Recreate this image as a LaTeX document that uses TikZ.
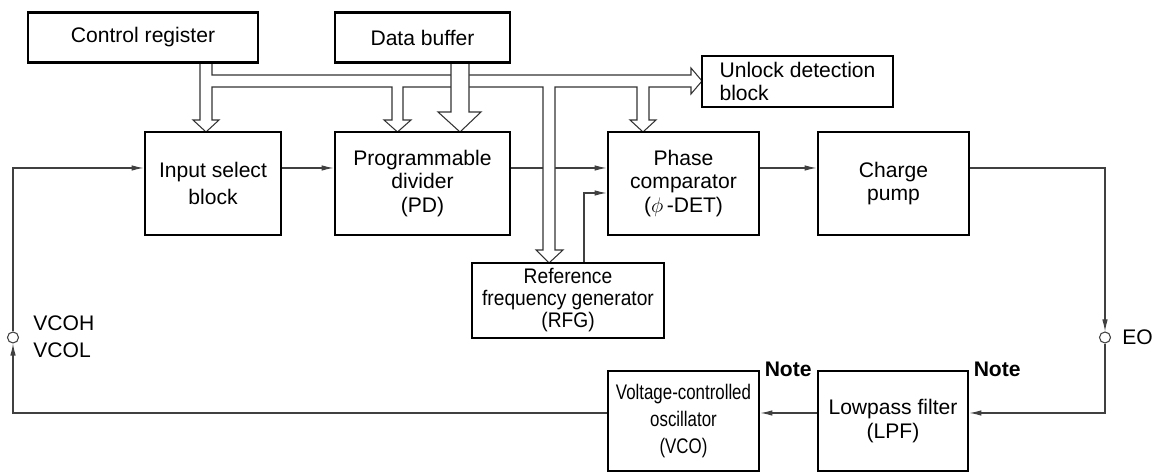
\documentclass[tikz,border=0pt]{standalone}
\usepackage{fontspec}
\setmainfont{Liberation Sans}
\newfontfamily\rfgfont[FakeStretch=0.91]{Liberation Sans}
\newfontfamily\vcofont[FakeStretch=0.80]{Liberation Sans}
\usetikzlibrary{arrows.meta, positioning, calc, backgrounds}

\begin{document}
\begin{tikzpicture}[
  blk/.style={rectangle, draw=black, line width=1.6pt, align=center,
              inner sep=2pt, font=\fontsize{12}{13.5}\selectfont},
  wire/.style={draw=black!75, line width=0.6pt},
  arr/.style={wire, -{Latex[length=0.24cm, width=0.11cm]}},
  bus/.style={draw=black!80, line width=0.6pt, fill=white, line join=miter},
  pin/.style={circle, draw=black!75, line width=0.6pt, fill=white,
              inner sep=0pt, minimum size=0.22cm},
  lbl/.style={inner sep=0pt, align=left, font=\fontsize{12}{15.5}\selectfont},
  note/.style={anchor=west, inner xsep=0.08cm, inner ysep=0pt,
               font=\fontsize{12}{14}\selectfont\bfseries}
]
  \useasboundingbox (0,0) rectangle (23.2,9.48);

  % sources on top
  \node[blk, minimum width=4.6cm, minimum height=1.0cm] (cr) at (2.86, 8.73) {Control register};
  \node[blk, minimum width=3.5cm, minimum height=1.0cm] (db) at (8.45, 8.73) {Data buffer};
  \node[blk, minimum width=3.82cm, minimum height=1.02cm, align=left] (ud) at (15.95, 7.85) {Unlock detection\\block};

  % main chain
  \node[blk, minimum width=2.72cm, minimum height=2.06cm] (isb) at (4.26, 5.81) {Input select\\[2pt]block};
  \node[blk, minimum width=3.5cm, minimum height=2.06cm] (pd) at (8.45, 5.81) {Programmable\\divider\\(PD)};
  \node[blk, minimum width=3.02cm, minimum height=2.06cm] (pc) at (13.67, 5.81) {Phase\\comparator\\($\phi$\,-DET)};
  \node[blk, minimum width=3.02cm, minimum height=2.06cm] (cp) at (17.87, 5.81) {Charge\\pump};
  \node[blk, minimum width=3.84cm, minimum height=1.5cm,
        font=\rfgfont\fontsize{12}{12.5}\selectfont] (rfg) at (11.36, 3.47) {Reference\\frequency generator\\(RFG)};

  % loop back
  \node[blk, minimum width=3.02cm, minimum height=2.0cm,
        font=\vcofont\fontsize{12}{15.4}\selectfont] (vco) at (13.67, 1.06) {Voltage-controlled\\oscillator\\(VCO)};
  \node[blk, minimum width=3.0cm, minimum height=2.0cm] (lpf) at (17.86, 1.06) {Lowpass filter\\(LPF)};

  \node[pin] (eo)  at (22.10, 2.73) {};
  \node[pin] (vin) at (0.26, 2.73) {};
  \node[lbl, anchor=west] (eolbl) at (22.44, 2.74) {EO};
  \node[lbl, anchor=west] (vinlbl) at (0.66, 2.74) {VCOH\\VCOL};
  \node[note] (n1) at (vco.north east) {Note};
  \node[note] (n2) at (lpf.north east) {Note};

  \begin{scope}[on background layer]
    \draw[arr] ([yshift=0.31cm]isb.east) -- ([yshift=0.31cm]pd.west);
    \draw[arr] ([yshift=0.31cm]pd.east) -- ([yshift=0.31cm]pc.west);
    \draw[arr] ([yshift=0.31cm]pc.east) -- ([yshift=0.31cm]cp.west);
    \draw[arr] ([yshift=0.31cm]cp.east) -| (eo.north);
    \draw[arr] (eo.south) |- ([yshift=0.16cm]lpf.east);
    \draw[arr] ([yshift=0.16cm]lpf.west) -- ([yshift=0.16cm]vco.east);
    \draw[arr] ([yshift=0.16cm]vco.west) -| (vin.south);
    \draw[arr] (vin.north) |- ([yshift=0.31cm]isb.west);
    \draw[arr] ([xshift=0.32cm]rfg.north) |- ([yshift=-0.19cm]pc.west);

    % control bus
    \filldraw[bus] (4.00,8.23) -- (4.00,7.08) -- (3.86,7.08) -- (4.12,6.84) -- (4.38,7.08) -- (4.24,7.08) -- (4.24,7.74)
      -- (7.84,7.74) -- (7.84,7.08) -- (7.68,7.08) -- (7.95,6.84) -- (8.22,7.08) -- (8.06,7.08) -- (8.06,7.74)
      -- (10.86,7.74) -- (10.86,4.48) -- (10.72,4.48) -- (10.98,4.22) -- (11.26,4.48) -- (11.10,4.48) -- (11.10,7.74)
      -- (12.74,7.74) -- (12.74,7.08) -- (12.60,7.08) -- (12.86,6.84) -- (13.12,7.08) -- (12.98,7.08) -- (12.98,7.74)
      -- (13.82,7.74) -- (13.82,7.60) -- (14.04,7.86) -- (13.82,8.12) -- (13.82,7.98) -- (4.24,7.98) -- (4.24,8.23);
    % data bus
    \filldraw[bus] (9.02,8.23) -- (9.02,7.24) -- (8.76,7.24) -- (9.20,6.84) -- (9.62,7.24) -- (9.38,7.24) -- (9.38,8.23);
  \end{scope}
\end{tikzpicture}
\end{document}
